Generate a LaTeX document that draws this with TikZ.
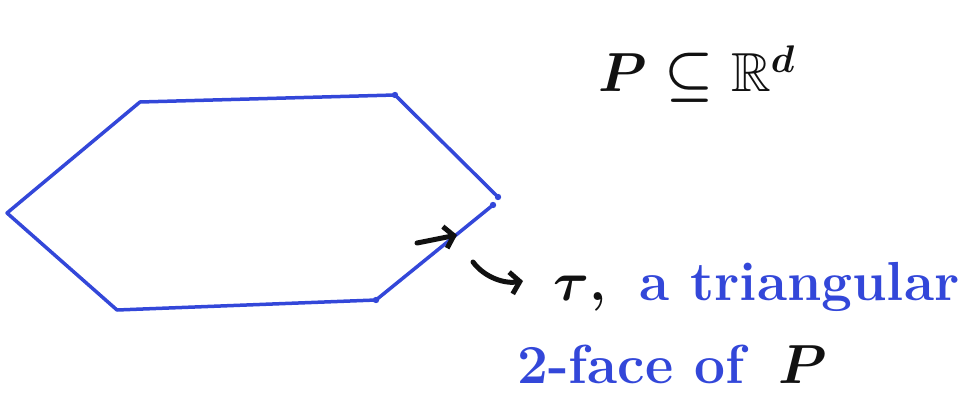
\RequirePackage{fix-cm}
\documentclass[tikz,border=0pt]{standalone}
\usepackage{amsmath,amssymb}
\DeclareFontFamily{U}{msb}{}
\DeclareFontShape{U}{msb}{m}{n}{<-6> msbm5 <6-8> msbm7 <8-> msbm10}{}
\usepackage{tikz}
\usetikzlibrary{arrows.meta,positioning}
\definecolor{cink}{HTML}{3347D9}
\definecolor{cpen}{HTML}{111111}
\tikzset{
  hand/.style={inner sep=0pt, font=\fontsize{55}{66}\selectfont\bfseries\boldmath},
  handb/.style={hand, text=cink},
  handk/.style={hand, text=cpen},
  edge/.style={draw=cink, line width=3.5pt, line join=round, line cap=round},
  pointer/.style={-{Straight Barb[length=9pt, width=22pt]}, draw=cpen,
                  line width=5pt, line cap=round},
}

\begin{document}
\begin{tikzpicture}[x=1pt, y=-1pt]
  \useasboundingbox (0,0) rectangle (963,412);
  % the polygon P
  \coordinate (v1) at (7,213);
  \coordinate (v2) at (140,102);
  \coordinate (v3) at (395,95);
  \coordinate (v4) at (498,197);
  \coordinate (v5) at (493,205);
  \coordinate (v6) at (376,300);
  \coordinate (v7) at (117,310);
  \draw[edge] (v5) -- (v6) -- (v7) -- (v1) -- (v2) -- (v3) -- (v4);
  \foreach \v in {v3,v4,v5,v6} \fill[cink] (\v) circle (3.2pt);
  % labels
  \node[handk, anchor=base west] (dim) at (598,92) {$P \subseteq \mathbb{R}^d$};
  \node[handk, anchor=base west] (tau) at (553,300) {$\tau$,};
  \node[handb, right=33pt of tau.base east, anchor=base west] (tri) {a triangular};
  \node[handb, anchor=base west] (face) at (517,383) {2-face of};
  \node[handk, right=34pt of face.base east, anchor=base west] (pp) {$P$};
  % arrows
  \coordinate (ea) at (417,243);
  \coordinate (eb) at (457,235);
  \draw[pointer] (ea) -- (eb);
  \coordinate (ca) at (473,262);
  \coordinate (cb) at (523,281);
  \draw[pointer] (ca) .. controls (485,278) and (505,284) .. (cb);
\end{tikzpicture}
\end{document}
